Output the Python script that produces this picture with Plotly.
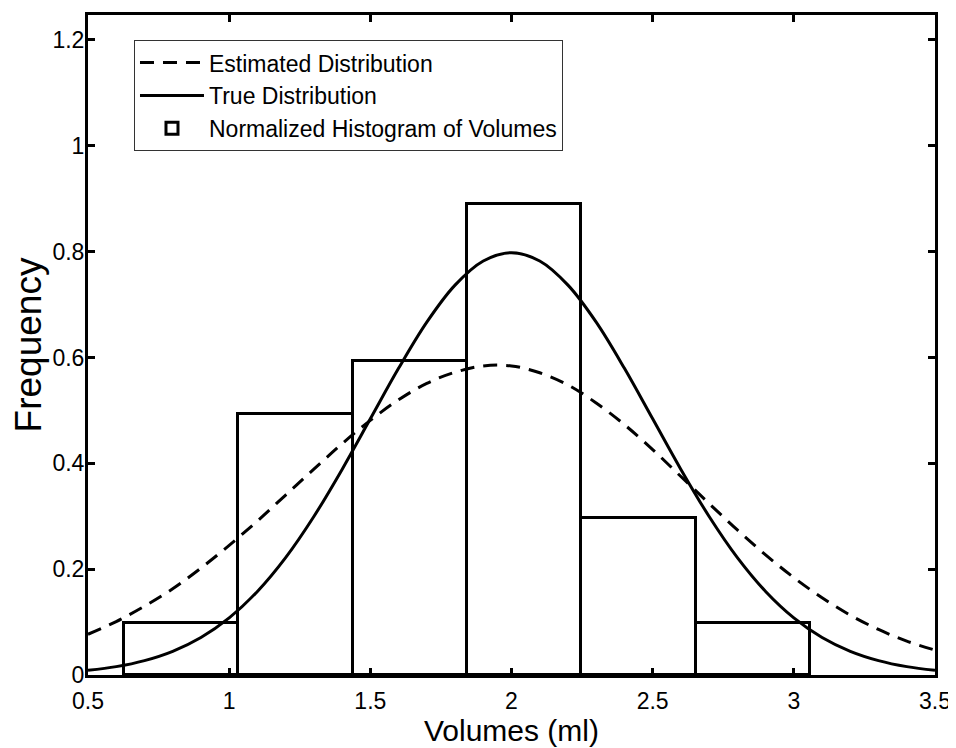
import plotly.graph_objects as go

# Histogram bins (centers), normalized heights
bin_centers = [0.830, 1.235, 1.640, 2.045, 2.450, 2.855]
bin_heights = [0.099, 0.494, 0.593, 0.889, 0.296, 0.099]
bin_width = 0.405

# Curves
curve_x = [0.5, 0.6, 0.7, 0.8, 0.9, 1.0, 1.1, 1.2, 1.3, 1.4, 1.5, 1.6, 1.7, 1.8, 1.9, 2.0,
           2.1, 2.2, 2.3, 2.4, 2.5, 2.6, 2.7, 2.8, 2.9, 3.0, 3.1, 3.2, 3.3, 3.4, 3.5]
estimated_y = [0.077, 0.101, 0.130, 0.163, 0.202, 0.245, 0.291, 0.340, 0.389, 0.437, 0.481,
               0.520, 0.551, 0.572, 0.584, 0.584, 0.571, 0.548, 0.514, 0.473, 0.426, 0.375,
               0.324, 0.274, 0.227, 0.184, 0.146, 0.113, 0.086, 0.064, 0.047]
true_y = [0.0089, 0.0158, 0.0272, 0.0448, 0.0709, 0.1080, 0.1579, 0.2218, 0.2995, 0.3885,
          0.4840, 0.5794, 0.6666, 0.7366, 0.7822, 0.7980, 0.7822, 0.7366, 0.6666, 0.5794,
          0.4840, 0.3885, 0.2995, 0.2218, 0.1579, 0.1080, 0.0709, 0.0448, 0.0272, 0.0158, 0.0089]

x_ticks = [0.5, 1, 1.5, 2, 2.5, 3, 3.5]
x_ticklabels = ["0.5", "1", "1.5", "2", "2.5", "3", "3.5"]
y_ticks = [0, 0.2, 0.4, 0.6, 0.8, 1.0, 1.2]
y_ticklabels = ["0", "0.2", "0.4", "0.6", "0.8", "1", "1.2"]

FONT = "Liberation Sans, Arial, Helvetica, sans-serif"

fig = go.Figure()
fig.add_trace(go.Bar(
    x=bin_centers, y=bin_heights, width=bin_width,
    marker=dict(color="white", line=dict(color="black", width=3)),
    name="Normalized Histogram of Volumes",
))
fig.add_trace(go.Scatter(
    x=curve_x, y=true_y, mode="lines", line=dict(color="black", width=3, shape="spline"),
    name="True Distribution",
))
fig.add_trace(go.Scatter(
    x=curve_x, y=estimated_y, mode="lines",
    line=dict(color="black", width=3, dash="14px,9px", shape="spline"),
    name="Estimated Distribution",
))

axis_common = dict(
    showline=True, linecolor="black", linewidth=3, mirror="ticks",
    ticks="inside", ticklen=7, tickwidth=3, tickcolor="black",
    showgrid=False, zeroline=False,
    tickfont=dict(family=FONT, size=23, color="black"),
)

fig.update_layout(
    width=948, height=740,
    margin=dict(l=80, r=21, t=4, b=73),
    paper_bgcolor="white", plot_bgcolor="white",
    font=dict(family=FONT, color="black"),
    showlegend=True,
    legend=dict(
        x=0.0543, y=0.962, xanchor="left", yanchor="top",
        traceorder="reversed",
        bgcolor="white", bordercolor="#333", borderwidth=1,
        font=dict(family=FONT, size=23, color="black"),
        itemwidth=64, tracegroupgap=0,
    ),
    xaxis=dict(
        range=[0.5, 3.5], tickvals=x_ticks, ticktext=x_ticklabels,
        ticklabelstandoff=3,
        title=dict(text="Volumes (ml)", font=dict(family=FONT, size=30), standoff=5),
        **axis_common,
    ),
    yaxis=dict(
        range=[0, 1.247], tickvals=y_ticks, ticktext=y_ticklabels,
        ticklabelstandoff=-4,
        title=dict(text="Frequency", font=dict(family=FONT, size=37), standoff=8),
        **axis_common,
    ),
    bargap=0,
)

fig.write_html("out.html")
